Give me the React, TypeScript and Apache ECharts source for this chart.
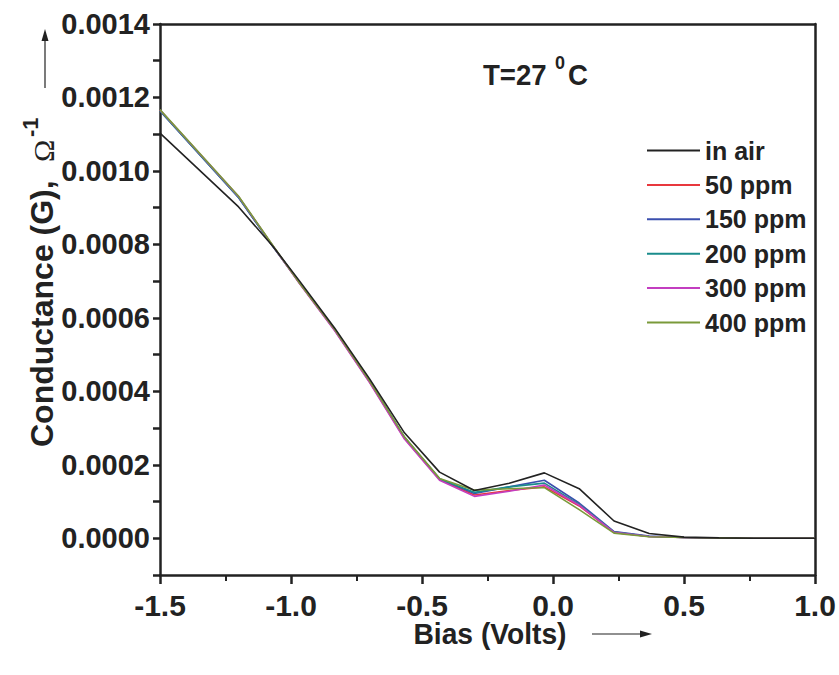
import React, { useEffect, useRef } from 'react';
import * as echarts from 'echarts';

const bias = [-1.5, -1.2, -1.067, -0.967, -0.833, -0.7, -0.567, -0.433, -0.3, -0.167, -0.033, 0.1, 0.233, 0.367, 0.5, 0.633, 0.767, 0.9, 1.0];

const inAir = [0.001103, 0.000902, 0.000793, 0.0007, 0.000572, 0.000434, 0.000287, 0.00018, 0.00013, 0.00015, 0.000178, 0.000135, 0.000047, 0.000013, 0.000003, 0.000001, 0, 0, 0];
const ppm50 = [0.001165, 0.000929, 0.000793, 0.000694, 0.000566, 0.000425, 0.000272, 0.00016, 0.000118, 0.00013, 0.00014, 0.000088, 0.000016, 0.000005, 0.000002, 0.000001, 0, 0, 0];
const ppm150 = [0.001163, 0.000927, 0.000792, 0.000696, 0.000568, 0.000428, 0.000275, 0.000162, 0.000122, 0.00014, 0.000158, 0.000096, 0.000018, 0.000006, 0.000002, 0.000001, 0, 0, 0];
const ppm200 = [0.001164, 0.000928, 0.000793, 0.000695, 0.000567, 0.000427, 0.000274, 0.000161, 0.000125, 0.00014, 0.00015, 0.000092, 0.000017, 0.000005, 0.000002, 0.000001, 0, 0, 0];
const ppm300 = [0.001166, 0.00093, 0.000794, 0.000693, 0.000565, 0.000424, 0.00027, 0.000158, 0.000114, 0.000128, 0.000145, 0.00009, 0.000016, 0.000005, 0.000002, 0.000001, 0, 0, 0];
const ppm400 = [0.001167, 0.000931, 0.000795, 0.000694, 0.000568, 0.000428, 0.000276, 0.000163, 0.000131, 0.000135, 0.000138, 0.000078, 0.000014, 0.000004, 0.000002, 0.000001, 0, 0, 0];

const seriesNames = ['in air', '50 ppm', '150 ppm', '200 ppm', '300 ppm', '400 ppm'];
const seriesValues = [inAir, ppm50, ppm150, ppm200, ppm300, ppm400];
const seriesColors = ['#222222', '#e8383d', '#3b4fae', '#1a8c8c', '#c33dc0', '#7a9a3a'];

const FONT = '"Liberation Sans", Arial, Helvetica, sans-serif';
const INK = '#222222';

export default function App() {
  const ref = useRef<HTMLDivElement>(null);
  useEffect(() => {
    const chart = echarts.init(ref.current!, null, { renderer: 'svg' });
    const series = seriesNames.map((name, i) => ({
      name,
      type: 'line',
      showSymbol: false,
      symbol: 'none',
      lineStyle: { width: 1.6, color: seriesColors[i] },
      itemStyle: { color: seriesColors[i] },
      z: i === 0 ? 3 : 2,
      data: bias.map((b, k) => [b, seriesValues[i][k]]),
    }));
    const txt = (extra: any) => ({
      fill: INK,
      textAlign: 'left',
      textVerticalAlign: 'middle',
      align: 'left',
      verticalAlign: 'middle',
      ...extra,
    });
    const option: any = {
      animation: false,
      backgroundColor: '#ffffff',
      grid: { left: 160, right: 24, top: 24, bottom: 100, containLabel: false },
      xAxis: [
        {
          type: 'value',
          min: -1.5,
          max: 1.0,
          interval: 0.5,
          axisLine: { show: true, onZero: false, lineStyle: { color: INK, width: 2.5 } },
          axisTick: { show: true, inside: false, length: 9, lineStyle: { color: INK, width: 2.5 } },
          minorTick: { show: true, splitNumber: 2, length: 6, lineStyle: { color: INK, width: 2 } },
          splitLine: { show: false },
          axisLabel: {
            margin: 15,
            color: INK,
            fontSize: 30,
            fontWeight: 'bold',
            fontFamily: FONT,
            formatter: (v: number) => v.toFixed(1),
          },
        },
        {
          type: 'value',
          position: 'top',
          min: -1.5,
          max: 1.0,
          axisLine: { show: true, onZero: false, lineStyle: { color: INK, width: 2.5 } },
          axisTick: { show: false },
          axisLabel: { show: false },
          splitLine: { show: false },
        },
      ],
      yAxis: [
        {
          type: 'value',
          min: -0.0001,
          max: 0.0014,
          interval: 0.0001,
          axisLine: { show: true, onZero: false, lineStyle: { color: INK, width: 2.5 } },
          axisTick: { show: true, inside: false, length: 7, lineStyle: { color: INK, width: 2.5 } },
          splitLine: { show: false },
          axisLabel: {
            margin: 10,
            color: INK,
            fontSize: 29,
            fontWeight: 'bold',
            fontFamily: FONT,
            formatter: (v: number) => {
              const k = Math.round(v * 10000);
              if (k < 0 || k % 2 !== 0) return '';
              return (k / 10000).toFixed(4);
            },
          },
        },
        {
          type: 'value',
          position: 'right',
          min: -0.0001,
          max: 0.0014,
          axisLine: { show: true, onZero: false, lineStyle: { color: INK, width: 2.5 } },
          axisTick: { show: false },
          axisLabel: { show: false },
          splitLine: { show: false },
        },
      ],
      legend: {
        orient: 'vertical',
        left: 647,
        top: 138,
        padding: 0,
        itemWidth: 53,
        itemHeight: 2,
        itemGap: 9.4,
        icon: 'rect',
        data: seriesNames,
        textStyle: { fontSize: 25, lineHeight: 25, fontWeight: 'bold', color: INK, fontFamily: FONT },
      },
      series,
      graphic: [
        {
          type: 'text',
          x: 42,
          y: 447,
          rotation: Math.PI / 2,
          style: txt({ text: 'Conductance (G),', font: 'bold 32px ' + FONT }),
        },
        {
          type: 'text',
          x: 43,
          y: 162,
          rotation: Math.PI / 2,
          style: txt({ text: 'Ω', font: '30px "Liberation Serif", "DejaVu Serif", serif' }),
        },
        {
          type: 'text',
          x: 30,
          y: 137,
          rotation: Math.PI / 2,
          style: txt({ text: '-1', font: 'bold 22px ' + FONT }),
        },
        {
          type: 'line',
          shape: { x1: 45, y1: 88, x2: 45, y2: 40 },
          style: { stroke: INK, lineWidth: 1.2 },
        },
        {
          type: 'polygon',
          shape: { points: [[45, 29], [41.5, 41], [48.5, 41]] },
          style: { fill: INK },
        },
        {
          type: 'text',
          x: 490,
          y: 634,
          scaleX: 0.94,
          style: txt({ text: 'Bias (Volts)', font: 'bold 30px ' + FONT, textAlign: 'center', align: 'center' }),
        },
        {
          type: 'line',
          shape: { x1: 592, y1: 634, x2: 642, y2: 634 },
          style: { stroke: INK, lineWidth: 1.2 },
        },
        {
          type: 'polygon',
          shape: { points: [[652, 634], [640, 630.5], [640, 637.5]] },
          style: { fill: INK },
        },
        {
          type: 'text',
          x: 483,
          y: 75,
          scaleX: 0.92,
          style: txt({ text: 'T=27', font: 'bold 30px ' + FONT }),
        },
        {
          type: 'text',
          x: 555,
          y: 63,
          style: txt({ text: '0', font: 'bold 18px ' + FONT }),
        },
        {
          type: 'text',
          x: 568,
          y: 75,
          scaleX: 0.92,
          style: txt({ text: 'C', font: 'bold 30px ' + FONT }),
        },
      ],
    };
    chart.setOption(option);
    return () => chart.dispose();
  }, []);
  return (
    <div
      ref={ref}
      style={{ position: 'fixed', left: 0, top: 0, width: 839, height: 675, background: '#fff' }}
    />
  );
}
